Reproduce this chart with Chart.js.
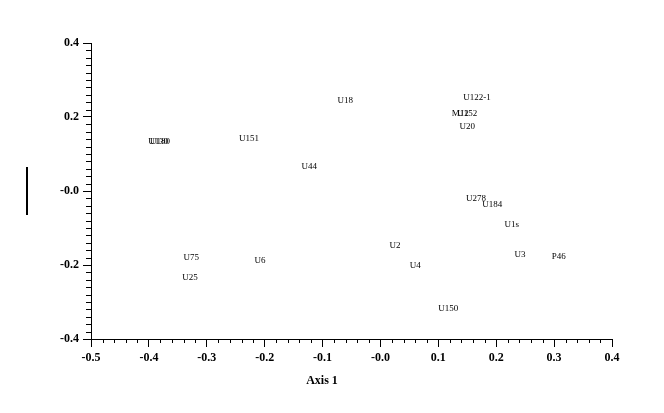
<!DOCTYPE html>
<html>
<head>
<meta charset="utf-8">
<script src="https://cdn.jsdelivr.net/npm/chart.js@4"></script>
<style>
	body { margin: 0; background: #fff; }
	canvas { display: block; }
</style>
</head>
<body>
<canvas id="myChart" width="664" height="413"></canvas>
<script>
// site labels and their ordination scores
var siteNames = ["U130", "U180", "U151", "U18", "U122-1", "M12", "U152", "U20", "U44", "U278",
	"U184", "U1s", "U2", "U3", "P46", "U4", "U75", "U6", "U25", "U150"];
var axis1 = [-0.384, -0.381, -0.227, -0.061, 0.167, 0.138, 0.150, 0.150, -0.123, 0.165,
	0.193, 0.227, 0.025, 0.241, 0.308, 0.060, -0.327, -0.208, -0.329, 0.117];
var axis2 = [0.135, 0.135, 0.143, 0.246, 0.254, 0.211, 0.211, 0.176, 0.068, -0.019,
	-0.035, -0.089, -0.146, -0.168, -0.176, -0.200, -0.178, -0.186, -0.232, -0.316];

// major ticks and the text printed for them
var xTicks = [-0.5, -0.4, -0.3, -0.2, -0.1, 0, 0.1, 0.2, 0.3, 0.4];
var xTickLabels = ["-0.5", "-0.4", "-0.3", "-0.2", "-0.1", "-0.0", "0.1", "0.2", "0.3", "0.4"];
var yTicks = [-0.4, -0.2, 0, 0.2, 0.4];
var yTickLabels = ["-0.4", "-0.2", "-0.0", "0.2", "0.4"];
var minorStep = 0.02;

var tickFont = { family: "'Liberation Serif', 'Times New Roman', serif", size: 12, weight: "bold" };

function isMajor(list, v) {
	for (var i = 0; i < list.length; i++) {
		if (Math.abs(list[i] - v) < 1e-6) return i;
	}
	return -1;
}

function buildTicks(list) {
	return function (scale) {
		var out = [];
		var n = Math.round((scale.max - scale.min) / minorStep);
		for (var i = 0; i <= n; i++) {
			out.push({ value: +(scale.min + i * minorStep).toFixed(4) });
		}
		scale.ticks = out;
	};
}

// short minor ticks, site labels, axis title and the odd bar at left
var extras = {
	id: "extras",
	afterDraw: function (chart) {
		var ctx = chart.ctx;
		var xs = chart.scales.x, ys = chart.scales.y;
		var area = chart.chartArea;
		ctx.save();
		ctx.strokeStyle = "#000";
		ctx.lineWidth = 1;
		ctx.beginPath();
		xs.ticks.forEach(function (t) {
			if (isMajor(xTicks, t.value) < 0) {
				var px = Math.round(xs.getPixelForValue(t.value)) + 0.5;
				ctx.moveTo(px, area.bottom);
				ctx.lineTo(px, area.bottom + 4);
			}
		});
		ys.ticks.forEach(function (t) {
			if (isMajor(yTicks, t.value) < 0) {
				var py = Math.round(ys.getPixelForValue(t.value)) + 0.5;
				ctx.moveTo(area.left, py);
				ctx.lineTo(area.left - 5, py);
			}
		});
		ctx.stroke();

		ctx.fillStyle = "#000";
		ctx.font = "9px 'Liberation Serif', 'Times New Roman', serif";
		ctx.textAlign = "center";
		ctx.textBaseline = "middle";
		for (var i = 0; i < siteNames.length; i++) {
			ctx.fillText(siteNames[i], xs.getPixelForValue(axis1[i]), ys.getPixelForValue(axis2[i]) + 1);
		}

		ctx.font = "bold 12px 'Liberation Serif', 'Times New Roman', serif";
		ctx.fillText("Axis 1", 322, 381);

		ctx.fillRect(26, 167, 2, 48);
		ctx.restore();
	},
};

var points = [];
for (var i = 0; i < siteNames.length; i++) {
	points.push({ x: axis1[i], y: axis2[i] });
}

var ctx = document.getElementById("myChart").getContext("2d");
var myChart = new Chart(ctx, {
	type: "scatter",
	data: {
		datasets: [
			{
				label: "sites",
				data: points,
				pointRadius: 0,
				pointHoverRadius: 0,
			},
		],
	},
	options: {
		responsive: false,
		animation: false,
		layout: {
			padding: { left: 0, right: 52, top: 43, bottom: 0 },
		},
		plugins: {
			legend: { display: false },
			tooltip: { enabled: false },
		},
		scales: {
			x: {
				type: "linear",
				min: -0.5,
				max: 0.4,
				afterBuildTicks: buildTicks(xTicks),
				afterFit: function (scale) { scale.height = 74; },
				border: { display: true, color: "#000", width: 1 },
				grid: {
					display: true,
					drawOnChartArea: false,
					tickLength: 8,
					tickColor: function (c) {
						return c.tick && isMajor(xTicks, c.tick.value) >= 0 ? "#000" : "rgba(0,0,0,0)";
					},
				},
				ticks: {
					autoSkip: false,
					maxRotation: 0,
					padding: 4,
					color: "#000",
					font: tickFont,
					callback: function (v) {
						var k = isMajor(xTicks, v);
						return k >= 0 ? xTickLabels[k] : "";
					},
				},
			},
			y: {
				type: "linear",
				min: -0.4,
				max: 0.4,
				afterBuildTicks: buildTicks(yTicks),
				afterFit: function (scale) { scale.width = 91; },
				border: { display: true, color: "#000", width: 1 },
				grid: {
					display: true,
					drawOnChartArea: false,
					tickLength: 8,
					tickColor: function (c) {
						return c.tick && isMajor(yTicks, c.tick.value) >= 0 ? "#000" : "rgba(0,0,0,0)";
					},
				},
				ticks: {
					autoSkip: false,
					padding: 4,
					color: "#000",
					font: tickFont,
					callback: function (v) {
						var k = isMajor(yTicks, v);
						return k >= 0 ? yTickLabels[k] : "";
					},
				},
			},
		},
	},
	plugins: [extras],
});
</script>
</body>
</html>
